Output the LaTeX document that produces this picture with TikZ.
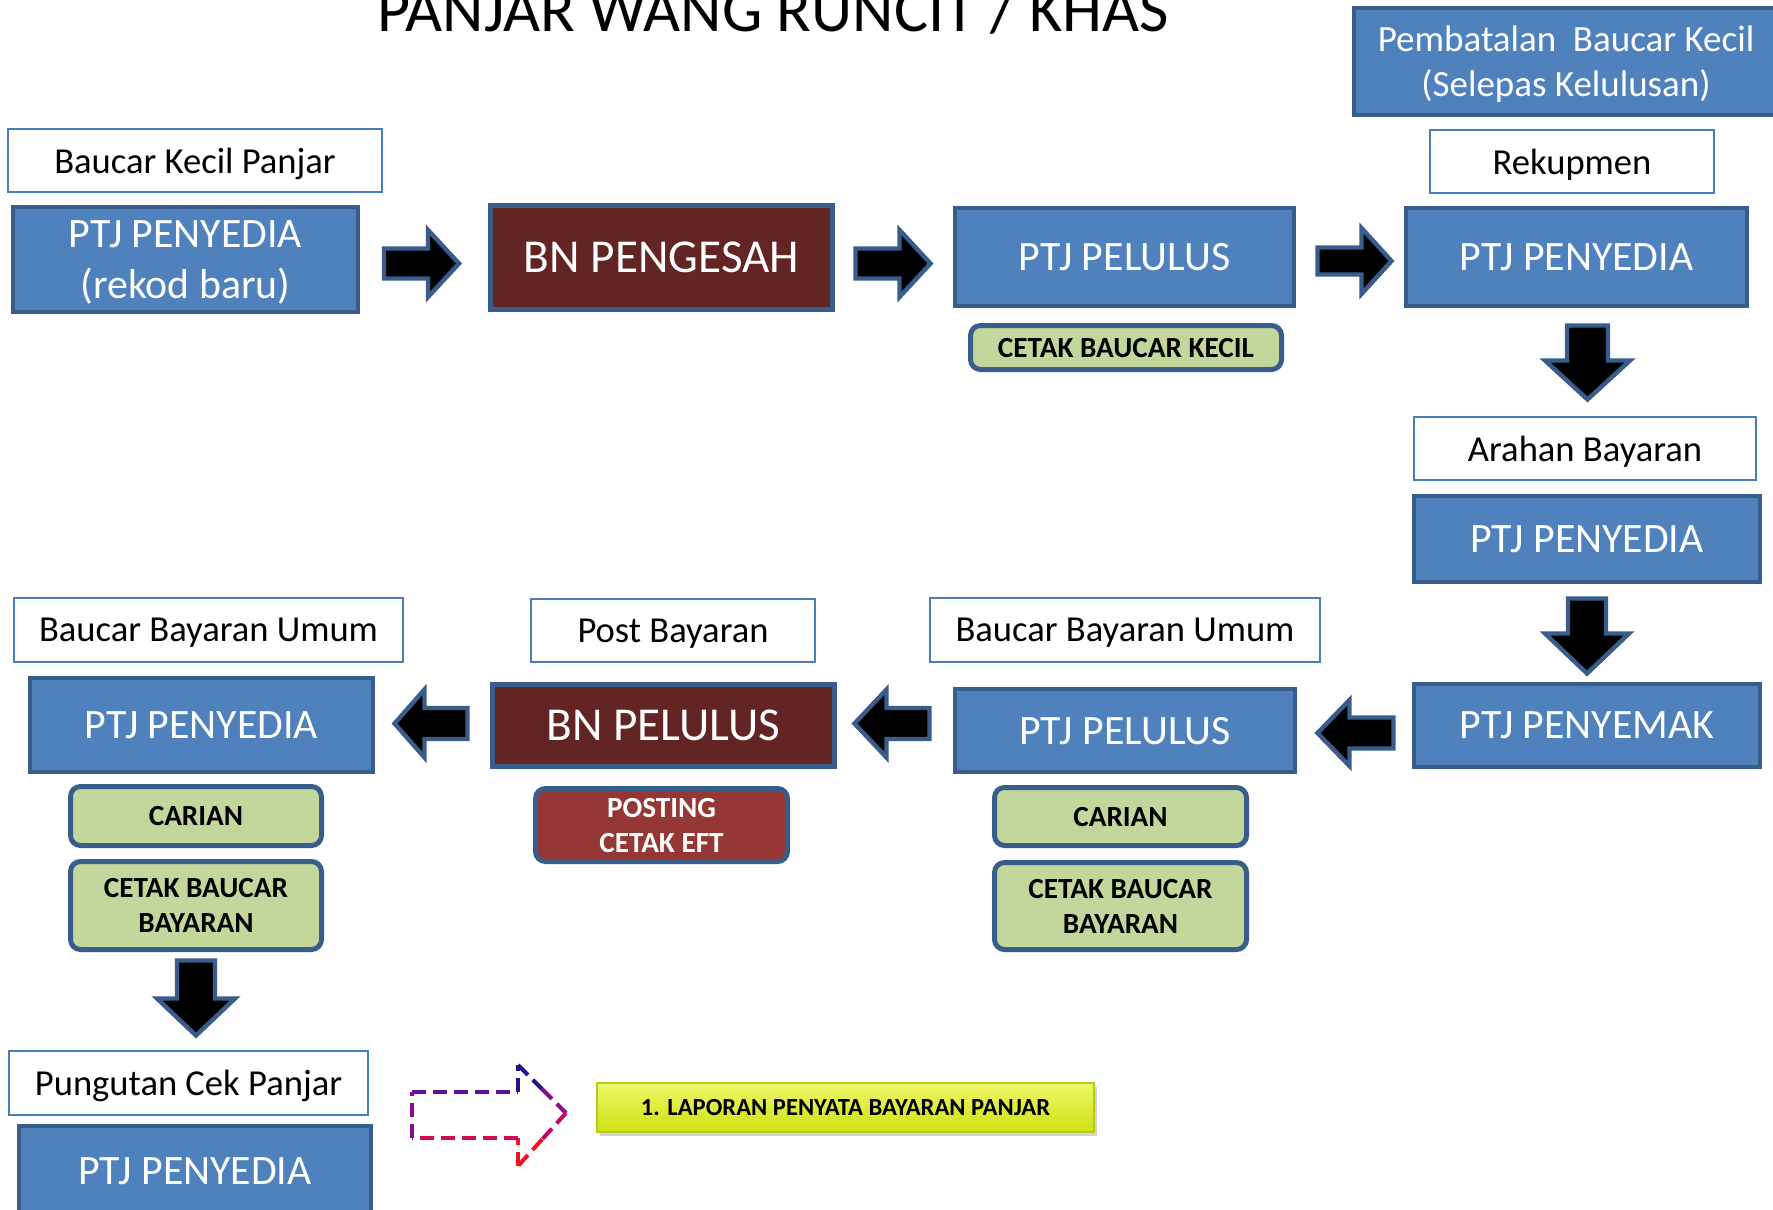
\documentclass[tikz,border=0pt]{standalone}
\usepackage{fontspec}
\setmainfont{Carlito}
\usetikzlibrary{shadows}
\definecolor{boxblue}{HTML}{4F81BD}
\definecolor{edgeblue}{HTML}{385D8A}
\definecolor{bnred}{HTML}{632523}
\definecolor{postred}{HTML}{953735}
\definecolor{greenfill}{HTML}{C3D69B}
\definecolor{wbord}{HTML}{4A7EBB}
\definecolor{dpurple}{HTML}{5E1096}
\definecolor{dindigo}{HTML}{2A0E8C}
\definecolor{dviolet}{HTML}{8A0C8C}
\definecolor{dmagenta}{HTML}{C4066A}
\definecolor{dcrimson}{HTML}{D20A58}
\definecolor{dred}{HTML}{F01020}
\definecolor{ytop}{HTML}{EEF86A}
\definecolor{ymid}{HTML}{E2EE1E}
\definecolor{ybot}{HTML}{D0E010}
\definecolor{yedge}{HTML}{B9C81C}
\tikzset{
  basebox/.style={inner sep=0pt, outer sep=0pt, align=center, text depth=0pt},
  whitebox/.style={basebox, draw=wbord, line width=1.25pt, fill=white, text=black,
    font=\fontsize{18.3pt}{21pt}\selectfont},
  bluebox/.style={basebox, draw=edgeblue, line width=2pt, fill=boxblue, text=white,
    font=\fontsize{20.9pt}{22.5pt}\selectfont},
  bnbox/.style={bluebox, fill=bnred, line width=2.5pt,
    font=\fontsize{23.6pt}{26pt}\selectfont},
  greenbox/.style={basebox, draw=edgeblue, line width=2.5pt, fill=greenfill, rounded corners=5pt,
    text=black, font=\fontsize{14.6pt}{17.5pt}\selectfont\bfseries},
  postbox/.style={greenbox, fill=postred, text=white},
  blkpoly/.style={draw=edgeblue, fill=black, line width=2.2pt, line join=miter},
  dsh/.style={line width=2pt, dash pattern=on 7pt off 3.5pt}
}
\begin{document}
\begin{tikzpicture}[x=0.5pt,y=-0.5pt]
\useasboundingbox (0,0) rectangle (1773,1210);
\clip (0,0) rectangle (1773,1210);

% title
\node[anchor=base, inner sep=0pt, font=\fontsize{32pt}{34pt}\selectfont] (title) at (773,32) {PANJAR WANG RUNCIT / KHAS};

% top row
\node[whitebox, minimum width=187pt, minimum height=31.5pt] (bk) at (195,160.5) {Baucar Kecil Panjar};
\node[bluebox, minimum width=172.5pt, minimum height=52.5pt, font=\fontsize{20.9pt}{25.5pt}\selectfont] (p1) at (185.5,259.5) {PTJ PENYEDIA\\(rekod baru)};
\node[bnbox, minimum width=171pt, minimum height=52pt] (bn1) at (661.5,257.5) {BN PENGESAH};
\node[bluebox, minimum width=169.5pt, minimum height=49pt] (pl1) at (1124.5,257) {PTJ PELULUS};
\node[greenbox, minimum width=155.5pt, minimum height=22pt] (cbk) at (1126,347.5) {CETAK BAUCAR KECIL};
\node[bluebox, minimum width=212pt, minimum height=53.5pt, font=\fontsize{18.5pt}{22.5pt}\selectfont] (pb) at (1566,61.5) {Pembatalan~~Baucar Kecil\\(Selepas Kelulusan)};
\node[whitebox, minimum width=142pt, minimum height=31.5pt] (rk) at (1572,161.5) {Rekupmen};
\node[bluebox, minimum width=170.5pt, minimum height=49pt] (p2) at (1576.5,257) {PTJ PENYEDIA};

% right column
\node[whitebox, minimum width=171pt, minimum height=31.5pt] (ar) at (1585,448.5) {Arahan Bayaran};
\node[bluebox, minimum width=173pt, minimum height=43pt] (p3) at (1587,539) {PTJ PENYEDIA};
\node[bluebox, minimum width=173pt, minimum height=41.5pt] (pm) at (1587,725.5) {PTJ PENYEMAK};

% middle row
\node[whitebox, minimum width=195pt, minimum height=32pt] (bbu2) at (1125,630) {Baucar Bayaran Umum};
\node[bluebox, minimum width=170pt, minimum height=41.5pt] (pl2) at (1125,730.5) {PTJ PELULUS};
\node[greenbox, minimum width=126pt, minimum height=29pt] (car2) at (1120.5,816.5) {CARIAN};
\node[greenbox, minimum width=126pt, minimum height=43.5pt] (cbb2) at (1120.5,906) {CETAK BAUCAR\\BAYARAN};

\node[whitebox, minimum width=142pt, minimum height=31.5pt] (pbay) at (673,630.5) {Post Bayaran};
\node[bnbox, minimum width=171pt, minimum height=41pt] (bn2) at (663.5,725.5) {BN PELULUS};
\node[postbox, minimum width=126pt, minimum height=36.5pt] (post) at (661.5,825) {POSTING\\CETAK EFT};

\node[whitebox, minimum width=194.5pt, minimum height=32pt] (bbu1) at (208.5,630) {Baucar Bayaran Umum};
\node[bluebox, minimum width=171.5pt, minimum height=47pt] (p4) at (201.5,725) {PTJ PENYEDIA};
\node[greenbox, minimum width=125.5pt, minimum height=29.5pt] (car1) at (196,816) {CARIAN};
\node[greenbox, minimum width=125.5pt, minimum height=44pt] (cbb1) at (196,905.5) {CETAK BAUCAR\\BAYARAN};

% bottom row
\node[whitebox, minimum width=179.5pt, minimum height=32pt] (pc) at (188.5,1083) {Pungutan Cek Panjar};
\node[bluebox, minimum width=176pt, minimum height=45pt] (p5) at (195,1171) {PTJ PENYEDIA};

\node[basebox, minimum width=248.5pt, minimum height=24.5pt, top color=ytop, middle color=ymid, bottom color=ybot,
  draw=yedge, line width=0.6pt,
  drop shadow={shadow xshift=1.5pt, shadow yshift=-2pt, opacity=0.35},
  font=\fontsize{12.3pt}{14pt}\selectfont\bfseries] (yel) at (845.5,1107.5) {1. LAPORAN PENYATA BAYARAN PANJAR};

% block arrows (centres named)
\coordinate (a1) at (421.5,263.5);
\coordinate (a2) at (893,263.5);
\coordinate (a3) at (1354.5,261);
\coordinate (d1) at (1587.5,362.5);
\coordinate (d2) at (1587,636);
\coordinate (l1) at (1355.5,733);
\coordinate (l2) at (892,723.5);
\coordinate (l3) at (431,723.5);
\coordinate (d3) at (196,998);

\draw[blkpoly] (a1) ++(-37.5,-15) -- ++(44,0) -- ++(0,-18.5) -- ++(31,33.5) -- ++(-31,33.5) -- ++(0,-18.5) -- ++(-44,0) -- cycle;
\draw[blkpoly] (a2) ++(-37.5,-15) -- ++(44,0) -- ++(0,-18.5) -- ++(31,33.5) -- ++(-31,33.5) -- ++(0,-18.5) -- ++(-44,0) -- cycle;
\draw[blkpoly] (a3) ++(-37,-13.5) -- ++(44,0) -- ++(0,-19.5) -- ++(30,33) -- ++(-30,33) -- ++(0,-19.5) -- ++(-44,0) -- cycle;

\draw[blkpoly] (l1) ++(38,-15.5) -- ++(-44,0) -- ++(0,-17.5) -- ++(-32,33) -- ++(32,33) -- ++(0,-17.5) -- ++(44,0) -- cycle;
\draw[blkpoly] (l2) ++(37.5,-15.5) -- ++(-43,0) -- ++(0,-18.5) -- ++(-32,34) -- ++(32,34) -- ++(0,-18.5) -- ++(43,0) -- cycle;
\draw[blkpoly] (l3) ++(36.5,-15.5) -- ++(-43,0) -- ++(0,-18.5) -- ++(-30,34) -- ++(30,34) -- ++(0,-18.5) -- ++(43,0) -- cycle;

\draw[blkpoly] (d1) ++(-20.5,-37) -- ++(0,35) -- ++(-22,0) -- ++(42.5,39) -- ++(42.5,-39) -- ++(-22,0) -- ++(0,-35) -- cycle;
\draw[blkpoly] (d2) ++(-19,-37.5) -- ++(0,35) -- ++(-23,0) -- ++(42,40) -- ++(42,-40) -- ++(-23,0) -- ++(0,-35) -- cycle;
\draw[blkpoly] (d3) ++(-19,-37.5) -- ++(0,38) -- ++(-20,0) -- ++(39,37) -- ++(39,-37) -- ++(-20,0) -- ++(0,-38) -- cycle;

% dashed outline arrow
\coordinate (dA) at (412,1092);
\coordinate (dB) at (518,1092);
\coordinate (dC) at (518,1065);
\coordinate (dT) at (566,1113);
\coordinate (dD) at (518,1166);
\coordinate (dE) at (518,1138);
\coordinate (dF) at (412,1138);
\coordinate (dU) at (542,1089);
\coordinate (dL) at (542,1139.5);
\draw[dsh, dpurple] (dA) -- (dB);
\draw[dsh, dindigo] (dB) -- (dC);
\draw[dsh, dindigo] (dC) -- (dU);
\draw[dsh, dviolet] (dU) -- (dT);
\draw[dsh, dmagenta] (dT) -- (dL);
\draw[dsh, dred] (dL) -- (dD);
\draw[dsh, dred] (dD) -- (dE);
\draw[dsh, dcrimson] (dE) -- (dF);
\draw[dsh, dviolet] (dF) -- (dA);
\end{tikzpicture}
\end{document}
